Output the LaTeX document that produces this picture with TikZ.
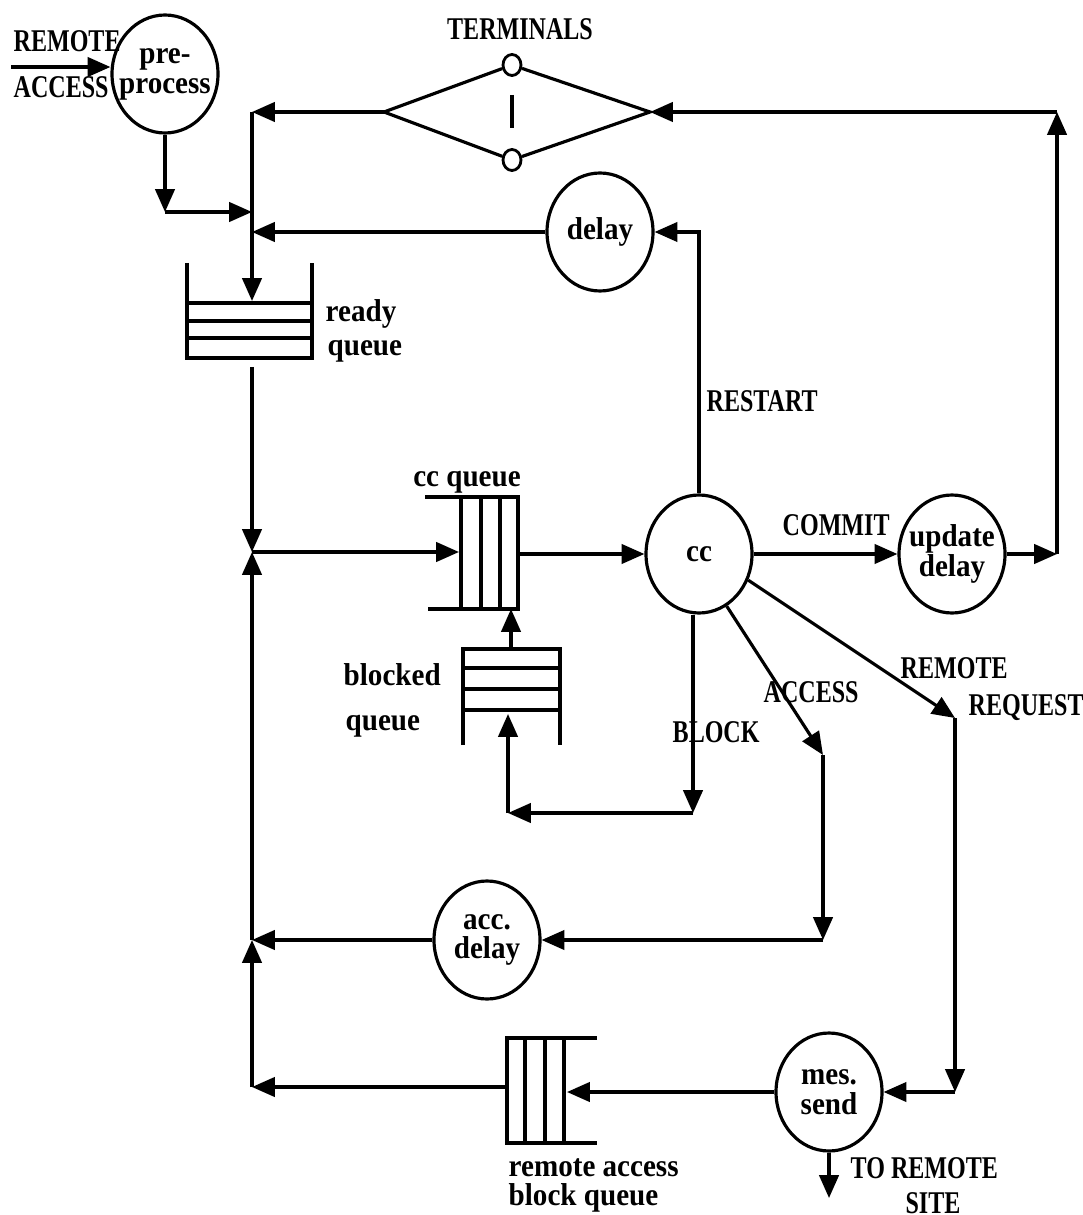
\documentclass[tikz,border=0pt]{standalone}
\usepackage{fontspec}
\setmainfont{Liberation Serif}
\newfontfamily\capfont[FakeStretch=0.76]{Liberation Serif}
\newfontfamily\lowfont[FakeStretch=0.92]{Liberation Serif}
\usetikzlibrary{shapes.geometric, arrows.meta, calc}

\begin{document}
\begin{tikzpicture}[x=0.1mm, y=-0.1mm,
    wire/.style={line width=0.9pt},
    flow/.style={-{Triangle[length=6.5pt, width=5.5pt]}, line width=0.9pt},
    proc/.style={draw, ellipse, line width=0.9pt, minimum width=10.6mm, minimum height=11.8mm, inner sep=0pt},
    ptxt/.style={inner sep=0pt, align=center, font=\lowfont\bfseries\fontsize{9}{8.5}\selectfont},
    term/.style={draw, ellipse, fill=white, line width=0.8pt, minimum width=1.8mm, minimum height=2.1mm, inner sep=0pt},
    lbl/.style={inner sep=0pt, font=\capfont\bfseries\fontsize{9}{10}\selectfont},
    txt/.style={inner sep=0pt, font=\lowfont\bfseries\fontsize{9}{10}\selectfont}]
    \useasboundingbox (0,0) rectangle (1082,1215);

    % Service centres
    \node[proc, label={[ptxt]center:pre-\\process}] (pre) at (165,74) {};
    \node[proc, label={[ptxt]center:delay}] (delay) at (600,232) {};
    \node[proc, label={[ptxt]center:cc}] (cc) at (699,554) {};
    \node[proc, label={[ptxt]center:update\\delay}] (upd) at (952,554) {};
    \node[proc, label={[ptxt]center:acc.\\delay}] (acc) at (487,940) {};
    \node[proc, label={[ptxt]center:mes.\\send}] (mes) at (829,1092) {};

    % Terminals
    \coordinate (termL) at (384,112);
    \coordinate (termR) at (650,112);
    \node[term] (termT) at (512,65) {};
    \node[term] (termB) at (512,160) {};
    \draw[wire] (termL) -- (termT) -- (termR) -- (termB) -- (termL);
    \draw[wire] (512,95) -- (512,128);
    \node[lbl, anchor=base] (termlbl) at (520,40) {TERMINALS};

    % Ready queue
    \draw[wire] (187,263) -- (187,358) -- (312,358) -- (312,263);
    \foreach \y in {303,321,338} \draw[wire] (187,\y) -- (312,\y);
    \coordinate (rqIn) at (252,301);
    \coordinate (rqOut) at (252,367);
    \node[txt, anchor=base west] (rqlbl) at (325,322) {ready};
    \node[txt, anchor=base west] (rqlbl2) at (327,356) {queue};

    % cc queue
    \draw[wire] (425,497) -- (518,497) -- (518,609) -- (428,609);
    \foreach \x in {461,481,500} \draw[wire] (\x,497) -- (\x,609);
    \coordinate (ccqIn) at (459,552);
    \coordinate (ccqOut) at (518,554);
    \coordinate (ccqBot) at (511,609);
    \node[txt, anchor=base] (ccqlbl) at (467,487) {cc queue};

    % Blocked queue
    \draw[wire] (463,745) -- (463,649) -- (560,649) -- (560,745);
    \foreach \y in {668,689,710} \draw[wire] (463,\y) -- (560,\y);
    \coordinate (bqTop) at (511,649);
    \coordinate (bqIn) at (508,714);
    \node[txt, anchor=base west] (bqlbl) at (343,685) {blocked};
    \node[txt, anchor=base west] (bqlbl2) at (345,730) {queue};

    % Remote access block queue
    \draw[wire] (597,1038) -- (507,1038) -- (507,1143) -- (597,1143);
    \foreach \x in {525,545,564} \draw[wire] (\x,1038) -- (\x,1143);
    \coordinate (rabIn) at (567,1092);
    \coordinate (rabOut) at (507,1087);
    \node[txt, anchor=base west] (rablbl) at (508,1176) {remote access};
    \node[txt, anchor=base west] (rablbl2) at (508,1205) {block queue};

    % Main return line
    \coordinate (jTop) at (252,112);
    \coordinate (jPre) at (252,212);
    \coordinate (jDelay) at (252,232);
    \coordinate (jMid) at (252,552);
    \coordinate (jAcc) at (252,940);
    \coordinate (jBot) at (252,1087);

    % Remote access input
    \coordinate (raStart) at (11,67);
    \draw[flow] (raStart) -- (raStart -| pre.west);
    \node[lbl, anchor=base west] (ralbl) at (13,52) {REMOTE};
    \node[lbl, anchor=base west] (ralbl2) at (13,98) {ACCESS};
    \coordinate (preTurn) at (165,212);
    \draw[flow] (pre) -- (preTurn);
    \draw[flow] (preTurn) -- (jPre);

    % Into the ready queue
    \draw[flow] (termL) -- (jTop);
    \draw[flow] (jTop) -- (rqIn);
    \draw[flow] (delay) -- (jDelay);
    \draw[flow] (rqOut) -- (jMid);
    \draw[flow] (jMid) -- (ccqIn);
    \draw[flow] (ccqOut) -- (cc);

    % Restart
    \draw[flow] (cc.north) |- (delay.east);
    \node[lbl, anchor=base west] (rslbl) at (706,412) {RESTART};

    % Commit
    \draw[flow] (cc) -- (upd);
    \node[lbl, anchor=base west] (cmlbl) at (782,535) {COMMIT};
    \coordinate (updTurn) at (1057,554);
    \coordinate (termTurn) at (1057,112);
    \draw[flow] (upd) -- (updTurn);
    \draw[flow] (updTurn) -- (termTurn);
    \draw[flow] (termTurn) -- (termR);

    % Remote request
    \coordinate (rrTurn) at (955,718);
    \coordinate (mesTurn) at (955,1092);
    \draw[flow] (cc.-28) -- (rrTurn);
    \draw[flow] (rrTurn) -- (mesTurn);
    \draw[flow] (mesTurn) -- (mes);
    \node[lbl, anchor=base west] (rrlbl) at (900,678) {REMOTE};
    \node[lbl, anchor=base west] (rrlbl2) at (968,715) {REQUEST};

    % Access
    \coordinate (acTurn) at (823,755);
    \coordinate (accTurn) at (823,940);
    \draw[flow] (cc.-62) -- (acTurn);
    \draw[flow] (acTurn) -- (accTurn);
    \draw[flow] (accTurn) -- (acc);
    \node[lbl, anchor=base west] (aclbl) at (763,702) {ACCESS};

    % Block
    \coordinate (blTurn) at (693,813);
    \coordinate (bqTurn) at (508,813);
    \draw[flow] (cc.south -| blTurn) -- (blTurn);
    \draw[flow] (blTurn) -- (bqTurn);
    \draw[flow] (bqTurn) -- (bqIn);
    \draw[flow] (bqTop) -- (ccqBot);
    \node[lbl, anchor=base west] (bllbl) at (672,742) {BLOCK};

    % Back to the cc queue
    \draw[flow] (acc) -- (jAcc);
    \draw[flow] (jBot) -- (jAcc);
    \draw[flow] (jAcc) -- (jMid);
    \draw[flow] (rabOut) -- (jBot);
    \draw[flow] (mes) -- (rabIn);

    % To remote site
    \coordinate (siteEnd) at (829,1198);
    \draw[flow] (mes) -- (siteEnd);
    \node[lbl, anchor=base west] (stlbl) at (850,1178) {TO REMOTE};
    \node[lbl, anchor=base] (stlbl2) at (933,1213) {SITE};
\end{tikzpicture}
\end{document}
